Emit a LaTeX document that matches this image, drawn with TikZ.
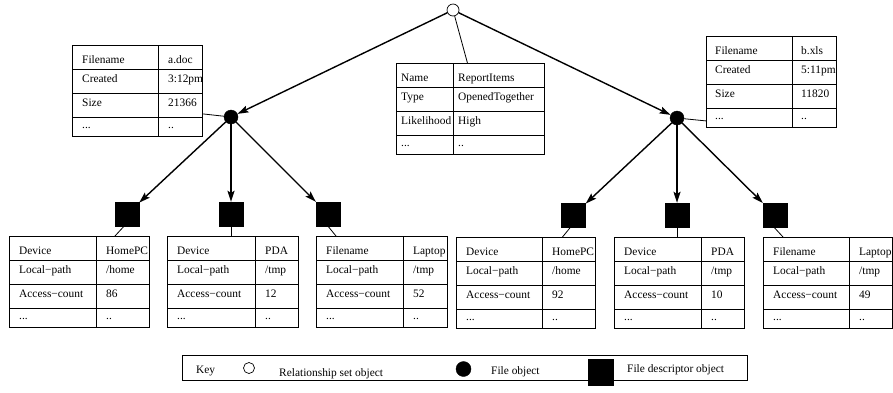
\documentclass[tikz,border=0pt]{standalone}
\usepackage{fontspec}
\setmainfont{Liberation Serif}
\usetikzlibrary{arrows.meta,calc}

\tikzset{
  tbox/.style={draw, line width=0.9pt, rectangle, inner sep=0pt, anchor=north west},
  tline/.style={line width=0.9pt},
  ttext/.style={anchor=base west, inner sep=0pt, font=\fontsize{11.4}{13}\selectfont},
  relobj/.style={draw, circle, fill=white, minimum size=12pt, inner sep=0pt, line width=0.7pt},
  fileobj/.style={draw, circle, fill=black, minimum size=14pt, inner sep=0pt},
  descobj/.style={draw, rectangle, fill=black, minimum width=24pt, minimum height=24pt, inner sep=0pt},
  arr/.style={line width=1.4pt, -{Stealth[length=11pt,width=7pt,inset=2pt]}},
  link/.style={line width=0.8pt},
}

\newcommand{\dthree}{...}
\newcommand{\dtwo}{..}

% #1 name, #2 x, #3 y (top), #4 width, #5 divider offset, #6 padding, #7 rows
\newcommand{\mytbl}[7]{%
  \node[tbox, minimum width=#4pt, minimum height=91pt] (#1) at (#2,#3) {};
  \draw[tline] (#2+#5,#3) -- ++(0,91);
  \foreach \yy in {24,48,72} \draw[tline] (#2,#3+\yy) -- ++(#4,0);
  \foreach \a/\b [count=\i] in {#7} {
    \pgfmathsetmacro\by{{18,37,61,83}[\i-1]}
    \node[ttext] (#1-l\i) at (#2+#6,#3+\by) {\a};
    \node[ttext] (#1-r\i) at (#2+#5+#6,#3+\by) {\b};
  }
}

\begin{document}
\begin{tikzpicture}[x=1pt,y=-1pt]
\useasboundingbox (0,0) rectangle (893,392);

% tables
\mytbl{tA}{72}{45}{130}{86}{10}{Filename/a.doc, Created/3:12pm, Size/21366, \dthree/\dtwo}
\mytbl{tC}{396}{63}{148}{57}{5}{Name/ReportItems, Type/OpenedTogether, Likelihood/High, \dthree/\dtwo}
\mytbl{tB}{706}{36}{130}{86}{9}{Filename/b.xls, Created/5:11pm, Size/11820, \dthree/\dtwo}

\mytbl{t1}{9}{236}{140}{87}{10}{Device/HomePC, {Local−path}/{/home}, {Access−count}/86, \dthree/\dtwo}
\mytbl{t2}{167}{236}{131}{88}{10}{Device/PDA, {Local−path}/{/tmp}, {Access−count}/12, \dthree/\dtwo}
\mytbl{t3}{316}{236}{131}{87}{10}{Filename/Laptop, {Local−path}/{/tmp}, {Access−count}/52, \dthree/\dtwo}
\mytbl{t4}{456}{237}{139}{86}{10}{Device/HomePC, {Local−path}/{/home}, {Access−count}/92, \dthree/\dtwo}
\mytbl{t5}{614}{237}{130}{87}{10}{Device/PDA, {Local−path}/{/tmp}, {Access−count}/10, \dthree/\dtwo}
\mytbl{t6}{763}{237}{129}{86}{10}{Filename/Laptop, {Local−path}/{/tmp}, {Access−count}/49, \dthree/\dtwo}

% objects
\node[fileobj] (fo1) at (231,117) {};
\node[fileobj] (fo2) at (677,118) {};
\node[descobj] (s1) at (127,214) {};
\node[descobj] (s2) at (231,214) {};
\node[descobj] (s3) at (328,214) {};
\node[descobj] (s4) at (573.5,215) {};
\node[descobj] (s5) at (677,215) {};
\node[descobj] (s6) at (775,215) {};

% thin links
\draw[link] (fo1) -- ([yshift=23pt]tA.south east);
\draw[link] (fo2) -- ([yshift=7pt]tB.south west);
\draw[link] ($(s1.south)+(-3,0)$) -- ($(s1.south |- t1.north)+(-12,0)$);
\draw[link] (s2.south) -- (s2.south |- t2.north);
\draw[link] (s3.south) -- ($(s3.south |- t3.north)+(8,0)$);
\draw[link] ($(s4.south)+(-3,0)$) -- ($(s4.south |- t4.north)+(-11,0)$);
\draw[link] (s5.south) -- (s5.south |- t5.north);
\draw[link] ($(s6.south)+(-1,0)$) -- ($(s6.south |- t6.north)+(8,0)$);

% root
\node[relobj] (root) at (453,10) {};
\draw[link] (root) -- ([xshift=-3pt]tC.north);

% arrows
\draw[arr] (root) -- (fo1);
\draw[arr] (root) -- (fo2);
\draw[arr] (fo1) -- (s1);
\draw[arr] (fo1) -- (s2);
\draw[arr] (fo1) -- (s3);
\draw[arr] (fo2) -- (s4);
\draw[arr] (fo2) -- (s5);
\draw[arr] (fo2) -- (s6);

% key
\node[tbox, minimum width=565pt, minimum height=25pt] (key) at (182,355) {};
\node[ttext] (keyl) at (196,373) {Key};
\node[relobj, minimum size=11pt] (k1) at (249,368) {};
\node[ttext] (k1t) at (279,376) {Relationship set object};
\node[fileobj, minimum size=15pt] (k2) at (463.5,369) {};
\node[ttext] (k2t) at (491,374) {File object};
\node[descobj, minimum width=25pt, minimum height=26pt] (k3) at (600.5,372) {};
\node[ttext] (k3t) at (627,372) {File descriptor object};
\end{tikzpicture}
\end{document}
